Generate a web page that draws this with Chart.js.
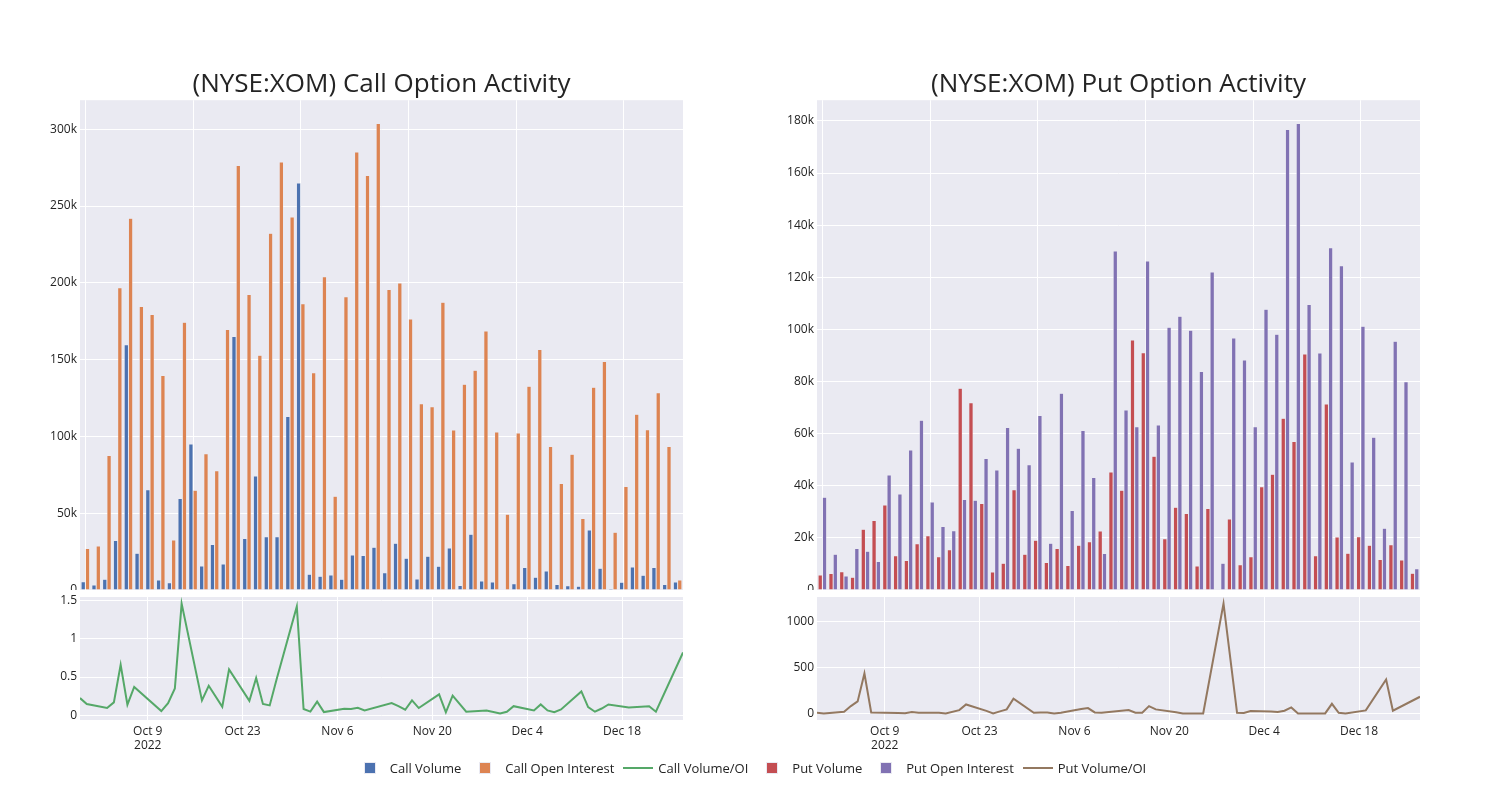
<!DOCTYPE html>
<html>
<head>
<meta charset="utf-8">
<script src="https://cdn.jsdelivr.net/npm/chart.js@4.4.1/dist/chart.umd.min.js"></script>
<style>
  body { margin: 0; width: 1500px; height: 800px; position: relative; overflow: hidden; background: #fff; font-family: "Open Sans", sans-serif; }
  canvas { position: absolute; }
  #legend { position: absolute; left: 0; top: 760px; width: 1500px; display: flex; justify-content: center; font-size: 13px; color: rgb(36,36,36); }
  .item { display: flex; align-items: center; height: 16px; margin-right: 4px; }
  .sym { width: 40px; display: flex; justify-content: center; align-items: center; }
  .sq { width: 12px; height: 12px; box-sizing: border-box; border: 0.5px solid #EAEAF2; }
  .ln { width: 30px; height: 2px; }
</style>
</head>
<body>
<canvas id="callBar" width="690" height="529" style="left:0;top:61px"></canvas>
<canvas id="callLine" width="690" height="187" style="left:0;top:585px"></canvas>
<canvas id="putBar" width="690" height="529" style="left:737px;top:61px"></canvas>
<canvas id="putLine" width="690" height="187" style="left:737px;top:585px"></canvas>
<div id="legend"></div>
<script>
// trading days shown (Sep 29 - Dec 27, 2022)
const dates = [
  '2022-09-29', '2022-09-30', '2022-10-03', '2022-10-04', '2022-10-05', '2022-10-06', '2022-10-07',
  '2022-10-11', '2022-10-12', '2022-10-13', '2022-10-14', '2022-10-17', '2022-10-18', '2022-10-20',
  '2022-10-21', '2022-10-24', '2022-10-25', '2022-10-26', '2022-10-27', '2022-10-28', '2022-10-31',
  '2022-11-01', '2022-11-02', '2022-11-03', '2022-11-04', '2022-11-07', '2022-11-08', '2022-11-09',
  '2022-11-10', '2022-11-14', '2022-11-15', '2022-11-16', '2022-11-17', '2022-11-18', '2022-11-21',
  '2022-11-22', '2022-11-23', '2022-11-25', '2022-11-28', '2022-11-30', '2022-12-01', '2022-12-02',
  '2022-12-05', '2022-12-06', '2022-12-07', '2022-12-08', '2022-12-09', '2022-12-12', '2022-12-13',
  '2022-12-14', '2022-12-15', '2022-12-16', '2022-12-19', '2022-12-22', '2022-12-23', '2022-12-27'
];

const callVolume = [
  5400, 3300, 7000, 32200, 159600, 23900, 65200, 6500, 4800, 59600, 95000, 15700, 29600, 17000,
  165000, 33500, 74300, 34600, 34600, 113000, 265000, 10200, 8900, 9800, 7000, 22800, 22400, 27800,
  11300, 30400, 20700, 7200, 22000, 15400, 27400, 3000, 36300, 5900, 5200, 400, 4100, 14600,
  8300, 12400, 3500, 2800, 2400, 39100, 14100, 900, 5000, 15000, 9600, 14600, 3500, 5200
];
const callOI = [
  27000, 28700, 87600, 196700, 242000, 184600, 179300, 139600, 32600, 174300, 65000, 88700, 77600, 169600,
  276300, 192400, 152800, 232200, 278700, 242800, 186300, 141500, 204000, 61000, 190900, 285200, 269800, 303700,
  195700, 199800, 176500, 121300, 119300, 187400, 104100, 133900, 143000, 168700, 102800, 49300, 102200, 132600,
  156500, 93500, 69300, 88300, 46500, 132000, 148700, 37600, 67400, 114400, 104300, 128500, 93500, 6500
];
const callRatio = [
  0.226, 0.148, 0.096, 0.17, 0.66, 0.14, 0.37, 0.057, 0.16, 0.35, 1.457, 0.196, 0.387, 0.113,
  0.6, 0.19, 0.487, 0.15, 0.13, 0.465, 1.42, 0.083, 0.05, 0.18, 0.043, 0.087, 0.085, 0.1,
  0.065, 0.16, 0.12, 0.074, 0.196, 0.096, 0.274, 0.04, 0.257, 0.048, 0.065, 0.026, 0.048, 0.12,
  0.065, 0.143, 0.065, 0.043, 0.078, 0.313, 0.109, 0.048, 0.09, 0.143, 0.104, 0.12, 0.048, 0.82
];

const putVolume = [
  5800, 6300, 7000, 4900, 23300, 26700, 32600, 13100, 11300, 17700, 20800, 12800, 15400, 77400,
  71900, 33200, 6900, 10300, 38500, 13700, 19100, 10600, 15900, 9400, 17200, 18500, 22600, 45300,
  38300, 95900, 91000, 51300, 19700, 31800, 29400, 9200, 31300, 0, 27200, 9700, 12800, 39600,
  44400, 65900, 57000, 90600, 13100, 71400, 20300, 14100, 20400, 17200, 11700, 17400, 11500, 6400
];
const putOI = [
  35600, 13700, 5400, 15900, 14900, 10900, 44100, 36800, 53700, 65100, 33800, 24400, 22700, 34700,
  34400, 50500, 46000, 62400, 54400, 48100, 67000, 17900, 75500, 30500, 61200, 43200, 14000, 130100,
  69100, 62600, 126200, 63300, 100800, 105000, 99700, 83800, 122000, 10300, 96700, 88300, 62600, 107700,
  98100, 176700, 179000, 109600, 90900, 131300, 124400, 49100, 101200, 58600, 23700, 95500, 79900, 8200
];
const putRatio = [
  7, 0, 18, 80, 131, 436, 11, 4, 2, 15, 7, 7, 0, 36,
  98, 28, 0, 22, 44, 160, 7, 11, 11, 0, 7, 47, 58, 11,
  7, 36, 7, 7, 80, 44, 12, 0, 0, 0, 1200, 7, 4, 25,
  22, 15, 29, 65, 0, 0, 0, 105, 7, 0, 33, 370, 29, 182
];

const tickDates = ['2022-10-09', '2022-10-23', '2022-11-06', '2022-11-20', '2022-12-04', '2022-12-18'];
const tickLabels = ['Oct 9', 'Oct 23', 'Nov 6', 'Nov 20', 'Dec 4', 'Dec 18'];
const callBarTicks = [0, 50000, 100000, 150000, 200000, 250000, 300000];
const putBarTicks = [0, 20000, 40000, 60000, 80000, 100000, 120000, 140000, 160000, 180000];
const callLineTicks = [0, 0.5, 1, 1.5];
const putLineTicks = [0, 500, 1000];

const colors = {
  callVol: '#4C72B0', callOI: '#DD8452', callRatio: '#55A868',
  putVol: '#C44E52', putOI: '#8172B3', putRatio: '#937860'
};

Chart.defaults.font.family = '"Open Sans", sans-serif';
Chart.defaults.font.size = 12;
Chart.defaults.color = 'rgb(36,36,36)';

const toDay = d => (Date.parse(d) - Date.parse(dates[0])) / 864e5;
const days = dates.map(toDay);
const tickDays = tickDates.map(toDay);

// grey plot background like the seaborn template
const plotBg = {
  id: 'plotBg',
  beforeDraw(chart) {
    const { ctx, chartArea: a } = chart;
    ctx.save();
    ctx.fillStyle = '#EAEAF2';
    ctx.fillRect(a.left, a.top, a.width, a.height);
    ctx.restore();
  }
};

// fixed y axis width, and no extra room for the end labels
function fixY(ax) {
  ax.width = 80;
  ax.paddingTop = 0;
  ax.paddingBottom = 0;
}

function barChart(id, title, sets, ticks) {
  const top = Math.max(...sets.flatMap(s => s.data)) * 1.05;
  new Chart(document.getElementById(id), {
    type: 'bar',
    data: {
      labels: dates,
      datasets: sets.map(s => ({
        label: s.label, data: s.data, backgroundColor: s.color,
        borderColor: '#EAEAF2', borderWidth: 0.5,
        categoryPercentage: 0.8, barPercentage: 1.0
      }))
    },
    options: {
      responsive: false,
      animation: false,
      layout: { padding: { left: 0, right: 7, top: 0, bottom: 0 } },
      plugins: {
        legend: { display: false },
        tooltip: { enabled: false },
        title: {
          display: true, text: title, fullSize: false,
          font: { size: 26, weight: 'normal' },
          padding: { top: 8, bottom: 0 }
        }
      },
      scales: {
        x: {
          grid: { color: '#ffffff', offset: false, drawTicks: false },
          border: { display: false },
          ticks: { display: false },
          afterBuildTicks(ax) { ax.ticks = ax.ticks.filter(t => t.value % 10 === 0); },
          afterFit(ax) { ax.height = 0; ax.paddingLeft = 0; ax.paddingRight = 0; }
        },
        y: {
          min: 0, max: top,
          grid: { color: '#ffffff', drawTicks: false },
          border: { display: false },
          ticks: { padding: 3, callback: v => v === 0 ? '0' : (v / 1000) + 'k' },
          afterBuildTicks(ax) { ax.ticks = ticks.map(v => ({ value: v })); },
          afterFit: fixY
        }
      }
    },
    plugins: [plotBg]
  });
}

function lineChart(id, label, ys, color, ticks) {
  const lo = Math.min(...ys), hi = Math.max(...ys), pad = (hi - lo) * 0.06;
  new Chart(document.getElementById(id), {
    type: 'line',
    data: {
      datasets: [{
        label, data: days.map((x, i) => ({ x, y: ys[i] })),
        borderColor: color, borderWidth: 2, pointRadius: 0, tension: 0, fill: false
      }]
    },
    options: {
      responsive: false,
      animation: false,
      layout: { padding: { left: 0, right: 7, top: 12, bottom: 0 } },
      plugins: { legend: { display: false }, tooltip: { enabled: false } },
      scales: {
        x: {
          type: 'linear', min: days[0], max: days[days.length - 1],
          grid: { color: '#ffffff', drawTicks: false },
          border: { display: false },
          ticks: {
            padding: 4, maxRotation: 0, autoSkip: false,
            callback: v => {
              const i = tickDays.indexOf(v);
              return i === 0 ? [tickLabels[i], '2022'] : tickLabels[i];
            }
          },
          afterBuildTicks(ax) { ax.ticks = tickDays.map(v => ({ value: v })); },
          afterFit(ax) { ax.height = 52; ax.paddingLeft = 0; ax.paddingRight = 0; }
        },
        y: {
          min: lo - pad, max: hi + pad,
          grid: { color: '#ffffff', drawTicks: false },
          border: { display: false },
          ticks: { padding: 3, callback: v => String(v) },
          afterBuildTicks(ax) { ax.ticks = ticks.map(v => ({ value: v })); },
          afterFit: fixY
        }
      }
    },
    plugins: [plotBg]
  });
}

barChart('callBar', '(NYSE:XOM) Call Option Activity', [
  { label: 'Call Volume', data: callVolume, color: colors.callVol },
  { label: 'Call Open Interest', data: callOI, color: colors.callOI }
], callBarTicks);
lineChart('callLine', 'Call Volume/OI', callRatio, colors.callRatio, callLineTicks);

barChart('putBar', '(NYSE:XOM) Put Option Activity', [
  { label: 'Put Volume', data: putVolume, color: colors.putVol },
  { label: 'Put Open Interest', data: putOI, color: colors.putOI }
], putBarTicks);
lineChart('putLine', 'Put Volume/OI', putRatio, colors.putRatio, putLineTicks);

// shared legend below both panels
const legendItems = [
  ['Call Volume', colors.callVol, 'sq'], ['Call Open Interest', colors.callOI, 'sq'],
  ['Call Volume/OI', colors.callRatio, 'ln'], ['Put Volume', colors.putVol, 'sq'],
  ['Put Open Interest', colors.putOI, 'sq'], ['Put Volume/OI', colors.putRatio, 'ln']
];
const legend = document.getElementById('legend');
legendItems.forEach(([text, color, kind]) => {
  const item = document.createElement('div');
  item.className = 'item';
  item.innerHTML = `<span class="sym"><span class="${kind}" style="background:${color}"></span></span><span>${text}</span>`;
  legend.appendChild(item);
});
</script>
</body>
</html>
